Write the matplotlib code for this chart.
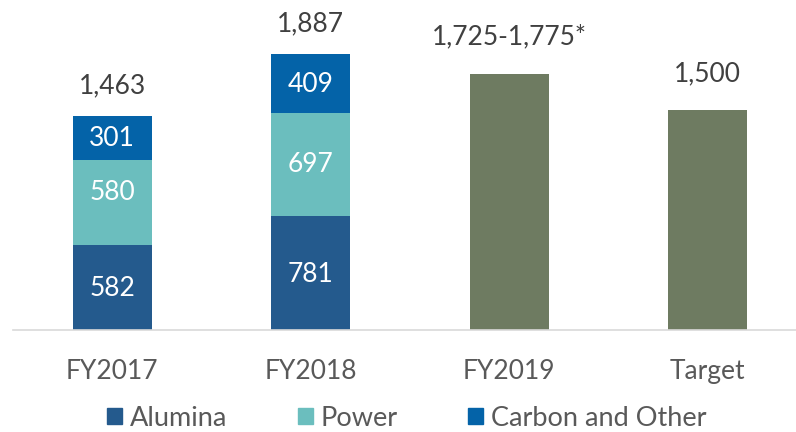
import matplotlib
matplotlib.use("Agg")
import matplotlib.pyplot as plt
from matplotlib.patches import Patch

categories = ["FY2017", "FY2018", "FY2019", "Target"]
alumina = [582, 781]
power = [580, 697]
carbon = [301, 409]
stacked_totals = ["1,463", "1,887"]
single_values = [1750, 1500]
single_labels = ["1,725-1,775*", "1,500"]

c_alumina = "#245A8D"
c_power = "#6BBEBE"
c_carbon = "#0463A8"
c_single = "#6E7B61"

plt.rcParams["font.family"] = ["Lato", "DejaVu Sans"]
fig = plt.figure(figsize=(7.96, 4.32), dpi=100)
ax = fig.add_axes([13/796, (432-330)/432, (796-13)/796, 293/432])
W = 0.4
x_st = [0, 1]
bottoms2 = [a + p for a, p in zip(alumina, power)]
ax.bar(x_st, alumina, W, color=c_alumina, zorder=2)
ax.bar(x_st, power, W, bottom=alumina, color=c_power, zorder=2)
ax.bar(x_st, carbon, W, bottom=bottoms2, color=c_carbon, zorder=2)
ax.bar([2, 3], single_values, W, color=c_single, zorder=2)

fs = 19
# small vertical nudges (px) for inside labels: [alumina, power, carbon] per bar
nudges = [[-1, 10, -1], [-2, 0, -1]]
for i in x_st:
    segs = [(alumina[i], 0), (power[i], alumina[i]), (carbon[i], bottoms2[i])]
    for k, (val, bot) in enumerate(segs):
        ax.annotate(f"{val}", (i, bot + val/2), xytext=(0, nudges[i][k]*0.72),
                    textcoords="offset points", ha="center", va="center",
                    color="white", fontsize=fs)
    top = bottoms2[i] + carbon[i]
    ax.annotate(stacked_totals[i], (i, top), xytext=(0, 30*0.72), textcoords="offset points",
                ha="center", va="center", color="#404040", fontsize=fs)
for j, (v, lab) in enumerate(zip(single_values, single_labels)):
    ax.annotate(lab, (2 + j, v), xytext=(0, 36.5*0.72), textcoords="offset points",
                ha="center", va="center", color="#404040", fontsize=fs)

ax.set_xlim(-0.5, (796-13)/198.5 - 0.5)
ax.set_ylim(0, 2000)
ax.set_yticks([])
ax.set_xticks(range(len(categories)))
ax.set_xticklabels(categories, fontsize=fs, color="#595959")
ax.tick_params(axis="x", length=0, pad=21)
for s in ["top", "right", "left"]:
    ax.spines[s].set_visible(False)
ax.spines["bottom"].set_color("#D9D9D9")
ax.spines["bottom"].set_linewidth(1.2)

handles = [Patch(color=c_alumina, label="Alumina"),
           Patch(color=c_power, label="Power"),
           Patch(color=c_carbon, label="Carbon and Other")]
leg = fig.legend(handles=handles, loc="center", bbox_to_anchor=(407/796, (432-418)/432), ncol=3,
                 frameon=False, fontsize=19.5, handlelength=0.55, handleheight=0.55,
                 handletextpad=0.3, columnspacing=2.6, borderpad=0, borderaxespad=0)
for t in leg.get_texts():
    t.set_color("#595959")

fig.savefig("out.png", dpi=100)
